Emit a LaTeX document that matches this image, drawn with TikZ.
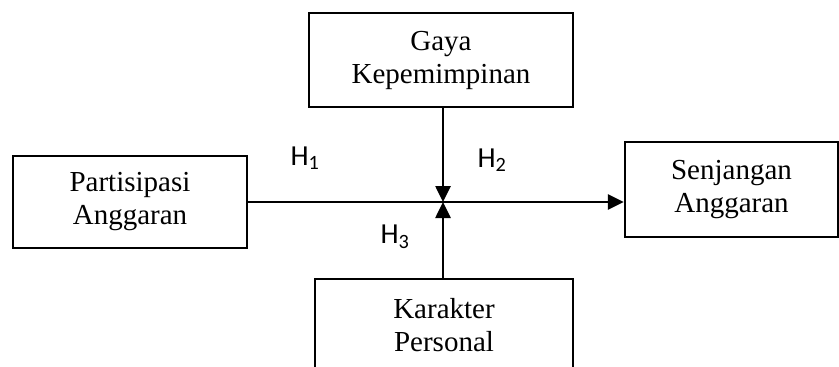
\documentclass[tikz,border=0pt]{standalone}
\usepackage{fontspec}
\setmainfont{Liberation Serif}
\newfontfamily\lblfont{Carlito}
\usetikzlibrary{arrows.meta}
\begin{document}
\begin{tikzpicture}[x=1pt,y=-1pt,
  box/.style={draw=black,line width=2.4pt,rectangle,align=center,inner sep=0pt,
    font=\fontsize{29}{33}\selectfont},
  conn/.style={line width=2.6pt,-{Triangle[length=16pt,width=15pt]}},
  hlbl/.style={font=\lblfont\fontsize{29}{33}\selectfont,inner sep=0pt}]
\clip (0,0) rectangle (839,367);
\fill[white] (0,0) rectangle (839,367);
\node[box,minimum width=264pt,minimum height=94pt] (T) at (441,60) {Gaya\\Kepemimpinan};
\node[box,minimum width=234pt,minimum height=92pt] (L) at (130,202) {Partisipasi\\Anggaran};
\node[box,minimum width=213pt,minimum height=95pt] (R) at (731.5,189.5) {Senjangan\\Anggaran};
\node[box,minimum width=258pt,minimum height=92pt] (B) at (444,325) {Karakter\\Personal};
\coordinate (m) at (443,202);
\draw[conn] (L.east) -- (R.west |- L.east);
\draw[conn] (T.south -| m) -- (m);
\draw[conn] (B.north -| m) -- (m);
\node[hlbl] (h1) at (305,158) {H\textsubscript{1}};
\node[hlbl] (h2) at (492,160) {H\textsubscript{2}};
\node[hlbl] (h3) at (395,237) {H\textsubscript{3}};
\end{tikzpicture}
\end{document}
